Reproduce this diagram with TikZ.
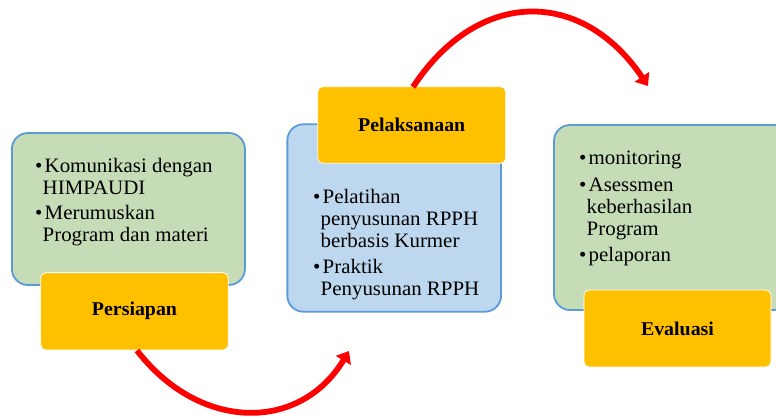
\documentclass[tikz,border=0pt]{standalone}
\usepackage{fontspec}
\setmainfont{Liberation Serif}[FakeStretch=1.02]
\usetikzlibrary{arrows.meta}
\definecolor{boxgreen}{RGB}{197,220,182}
\definecolor{boxblue}{RGB}{189,215,238}
\definecolor{edgeblue}{RGB}{91,155,213}
\definecolor{labelorange}{RGB}{255,192,0}
\definecolor{arrowred}{RGB}{255,0,0}
\newcommand\bul{\makebox[9.5pt][l]{\textbullet}}
\newcommand\cont{\hspace*{7.5pt}}
\tikzset{
  bigbox/.style={draw=edgeblue, line width=1.8pt, rounded corners=16pt, inner sep=0pt},
  labbox/.style={draw=white, line width=0.8pt, fill=labelorange, rounded corners=5pt,
    inner sep=0pt, font=\fontsize{19.5}{22}\selectfont\bfseries},
  bodytext/.style={anchor=base west, inner sep=0pt, font=\fontsize{20.5}{22}\selectfont},
  redarrow/.style={draw=arrowred, line width=5.8pt, -{Triangle[length=11pt,width=17pt]}}
}
\begin{document}
\begin{tikzpicture}[x=1pt,y=-1pt]
\useasboundingbox (0,0) rectangle (776,419);
\clip (0,0) rectangle (776,419);
% box 1
\node[bigbox, fill=boxgreen, minimum width=233pt, minimum height=152pt] (b1) at (128.4,209) {};
\node[bodytext] (t1) at (35,172.7) {\begin{tabular}[t]{@{}l@{}}
\bul Komunikasi dengan\\
\cont HIMPAUDI\\[3pt]
\bul Merumuskan\\
\cont Program dan materi
\end{tabular}};
\node[labbox, minimum width=187.6pt, minimum height=77.3pt] (o1) at (134.5,311.3) {Persiapan};
% box 2
\node[bigbox, fill=boxblue, minimum width=213.7pt, minimum height=187.4pt] (b2) at (394.2,218) {};
\node[labbox, minimum width=188pt, minimum height=76.6pt] (o2) at (411.7,125) {Pelaksanaan};
\node[bodytext] (t2) at (313,204) {\begin{tabular}[t]{@{}l@{}}
\bul Pelatihan\\
\cont penyusunan RPPH\\
\cont berbasis Kurmer\\[4pt]
\bul Praktik\\
\cont Penyusunan RPPH
\end{tabular}};
% box 3
\node[bigbox, fill=boxgreen, minimum width=236pt, minimum height=185pt] (b3) at (672,217.5) {};
\node[bodytext] (t3) at (579,165) {\begin{tabular}[t]{@{}l@{}}
\bul monitoring\\[4.5pt]
\bul Asessmen\\
\cont keberhasilan\\
\cont Program\\[4.5pt]
\bul pelaporan
\end{tabular}};
\node[labbox, minimum width=187pt, minimum height=77pt] (o3) at (677.5,328.5) {Evaluasi};
% arrows
\coordinate (a1s) at (137,350.5);
\coordinate (a1e) at (349,351);
\coordinate (a2s) at (413,87);
\coordinate (a2e) at (648,86);
\draw[redarrow] (a1s) .. controls (200,432) and (300,432) .. (a1e);
\draw[redarrow] (a2s) .. controls (478,-12) and (582,-12) .. (a2e);
\end{tikzpicture}
\end{document}
